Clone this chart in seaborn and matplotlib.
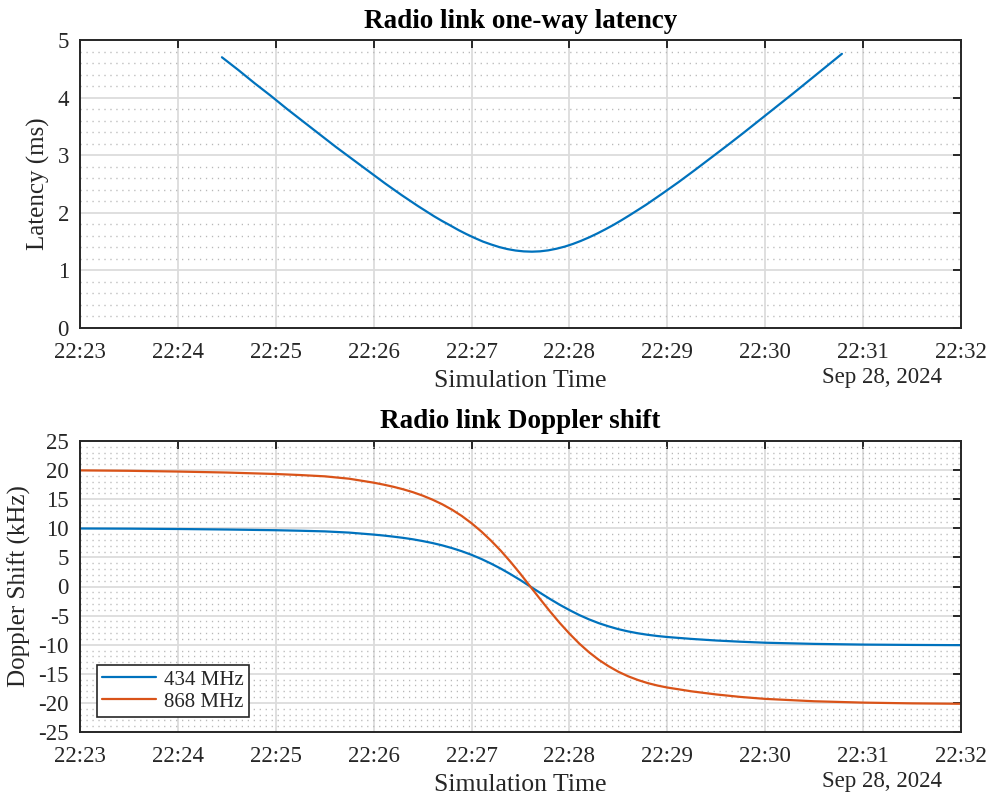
import matplotlib
matplotlib.use("Agg")
import matplotlib.pyplot as plt
import matplotlib.dates as mdates
from matplotlib.ticker import MultipleLocator
import matplotlib.transforms as mtransforms
import numpy as np
import pandas as pd
import seaborn as sns

# ---- data -------------------------------------------------------------
pass_day = "2024-09-28"

# one-way latency while the satellite is in view (seconds after 22:23:00)
latency_sec = [87, 97, 107, 117, 127, 137, 147, 157, 167, 177, 187, 197, 207,
               217, 222, 227, 232, 237, 242, 247, 252, 257, 262, 267, 272,
               277, 282, 287, 292, 297, 302, 307, 312, 317, 322, 327, 332,
               337, 347, 357, 367, 377, 387, 397, 407, 417, 427, 437, 447,
               457, 467]
latency_ms = [4.70, 4.48, 4.25, 4.03, 3.80, 3.58, 3.36, 3.14, 2.93, 2.72,
              2.51, 2.31, 2.12, 1.94, 1.857, 1.78, 1.70, 1.628, 1.562, 1.50,
              1.45, 1.405, 1.37, 1.345, 1.33, 1.325, 1.331, 1.348, 1.376,
              1.412, 1.458, 1.512, 1.573, 1.64, 1.713, 1.79, 1.873, 1.96,
              2.14, 2.335, 2.535, 2.745, 2.96, 3.175, 3.395, 3.62, 3.845,
              4.07, 4.30, 4.53, 4.76]

# Doppler shift over the whole window (minutes after 22:23:00)
doppler_min = [0, 0.5, 1, 1.5, 2, 2.25, 2.5, 2.75, 3.0, 3.1, 3.2, 3.3, 3.4,
               3.5, 3.6, 3.7, 3.8, 3.9, 4.0, 4.1, 4.2, 4.3, 4.4, 4.5, 4.6,
               4.7, 4.8, 4.9, 5.0, 5.1, 5.2, 5.3, 5.4, 5.5, 5.6, 5.7, 5.8,
               5.9, 6.0, 6.25, 6.5, 6.75, 7.0, 7.5, 8.0, 8.5, 9.0]
doppler_434 = [9.97, 9.94, 9.88, 9.79, 9.67, 9.58, 9.47, 9.26, 8.92, 8.76,
               8.57, 8.36, 8.11, 7.81, 7.47, 7.07, 6.60, 6.06, 5.44, 4.73,
               3.93, 3.06, 2.10, 1.08, 0.00, -1.08, -2.13, -3.13, -4.05,
               -4.90, -5.65, -6.30, -6.85, -7.33, -7.72, -8.04, -8.30, -8.51,
               -8.68, -9.01, -9.28, -9.49, -9.66, -9.86, -9.98, -10.04, -10.08]
doppler_868 = [19.95, 19.88, 19.75, 19.58, 19.33, 19.15, 18.93, 18.52, 17.84,
               17.51, 17.14, 16.71, 16.21, 15.62, 14.93, 14.13, 13.20, 12.12,
               10.87, 9.45, 7.86, 6.12, 4.20, 2.15, 0.00, -2.15, -4.25, -6.25,
               -8.10, -9.80, -11.30, -12.60, -13.70, -14.65, -15.43, -16.07,
               -16.60, -17.02, -17.36, -18.02, -18.55, -18.98, -19.31, -19.72,
               -19.95, -20.08, -20.15]
carrier_labels = ["434 MHz", "868 MHz"]

# ---- style ------------------------------------------------------------
sns.set_theme(style="white")
plt.rcParams["font.family"] = ["Liberation Serif", "DejaVu Serif"]
plt.rcParams["axes.unicode_minus"] = False

BLUE = "#0072BD"
ORANGE = "#D95319"
AX_COL = "#262626"

t0 = pd.Timestamp(f"{pass_day} 22:23:00")
lat_df = pd.DataFrame({
    "time": t0 + pd.to_timedelta(latency_sec, unit="s"),
    "latency": latency_ms,
})
dop_time = t0 + pd.to_timedelta(np.array(doppler_min) * 60, unit="s")
dop_df = pd.concat([
    pd.DataFrame({"time": dop_time, "shift": doppler_434, "carrier": carrier_labels[0]}),
    pd.DataFrame({"time": dop_time, "shift": doppler_868, "carrier": carrier_labels[1]}),
], ignore_index=True)

fig = plt.figure(figsize=(9.87, 7.96), dpi=100)
ax1 = fig.add_axes([80 / 987, 1 - 328 / 796, 881 / 987, 288 / 796])
ax2 = fig.add_axes([80 / 987, 1 - 732 / 796, 881 / 987, 291 / 796])

sns.lineplot(data=lat_df, x="time", y="latency", ax=ax1, color=BLUE,
             linewidth=1.6, estimator=None, sort=False)
sns.lineplot(data=dop_df, x="time", y="shift", hue="carrier", ax=ax2,
             palette=[BLUE, ORANGE], linewidth=1.6, estimator=None, sort=False)

xmin = t0
xmax = pd.Timestamp(f"{pass_day} 22:32:00")


def style_axes(ax, ylim, major, minor, title, ylabel):
    ax.set_xlim(xmin, xmax)
    ax.set_ylim(*ylim)
    ax.xaxis.set_major_locator(mdates.MinuteLocator(interval=1))
    ax.xaxis.set_major_formatter(mdates.DateFormatter("%H:%M"))
    ax.yaxis.set_major_locator(MultipleLocator(major))
    ax.yaxis.set_minor_locator(MultipleLocator(minor))
    ax.grid(which="major", axis="both", color="#dcdcdc", linewidth=1.3, linestyle="-")
    ax.grid(which="minor", axis="y", color="#b8b8b8", linewidth=1.0,
            linestyle=(0, (0.9, 3.4)))
    ax.set_axisbelow(True)
    for s in ax.spines.values():
        s.set_visible(True)
        s.set_color(AX_COL)
        s.set_linewidth(1.4)
    ax.tick_params(which="major", direction="in", length=6, width=1.4,
                   color=AX_COL, top=True, right=True, labelsize=16.5,
                   labelcolor=AX_COL)
    ax.tick_params(axis="x", which="major", pad=10)
    ax.tick_params(axis="y", which="major", pad=8)
    ax.tick_params(which="minor", length=0)
    ax.set_title(title, fontsize=19.5, fontweight="bold", color="black", pad=9)
    ax.set_xlabel("Simulation Time", fontsize=18.5, color=AX_COL, labelpad=5)
    ax.set_ylabel(ylabel, fontsize=18, color=AX_COL, labelpad=5)
    # date stamp under the right end of the time axis
    off = mtransforms.ScaledTranslation(0, -50 / 100, fig.dpi_scale_trans)
    ax.text(0.978, 0.0, "Sep 28, 2024", transform=ax.transAxes + off,
            ha="right", va="center", fontsize=16.5, color=AX_COL)


style_axes(ax1, (0, 5), 1, 0.2, "Radio link one-way latency", "Latency (ms)")
style_axes(ax2, (-25, 25), 5, 1, "Radio link Doppler shift", "Doppler Shift (kHz)")

leg = ax2.legend(loc="lower left", bbox_to_anchor=(0.019, 0.052),
                 borderaxespad=0, fontsize=15, frameon=True, fancybox=False,
                 framealpha=1, edgecolor=AX_COL, handlelength=2.6,
                 handletextpad=0.4, borderpad=0.25, labelspacing=0.12)
leg.get_frame().set_linewidth(1.2)
for line in leg.get_lines():
    line.set_linewidth(1.6)

fig.savefig("out.png", dpi=100)
